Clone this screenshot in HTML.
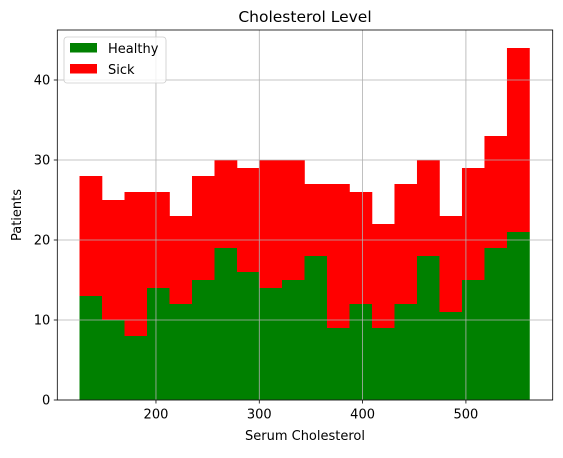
<!DOCTYPE html>
<html><head><meta charset="utf-8"><style>
body{margin:0;background:#fff;font-family:"Liberation Sans","DejaVu Sans",sans-serif;}
</style></head><body>
<svg id="chart" width="563" height="453" xmlns="http://www.w3.org/2000/svg" font-family="DejaVu Sans, Liberation Sans, sans-serif">
</svg>
<script>
const binStart = 126;
const binEnd = 561.5;
const healthy = [13,10,8,14,12,15,19,16,14,15,18,9,12,9,12,18,11,15,19,21];
const sick = [15,15,18,12,11,13,11,13,16,15,9,18,14,13,15,12,12,14,14,23];
const xTicks = [200,300,400,500];
const yTicks = [0,10,20,30,40];

const svg = document.getElementById('chart');
const NS = 'http://www.w3.org/2000/svg';
const L=57.3, R=552.7, T=30, B=400;
const xMin=104.5, xMax=584, yMax=46.25;
const X = v => L + (v - xMin) / (xMax - xMin) * (R - L);
const Y = v => B - v / yMax * (B - T);
function mk(tag, attrs){const e=document.createElementNS(NS,tag);for(const k in attrs)e.setAttribute(k,attrs[k]);svg.appendChild(e);return e;}

const n = healthy.length, w = (binEnd - binStart) / n;
for(let i=0;i<n;i++){
  const x0=X(binStart+i*w), x1=X(binStart+(i+1)*w);
  const g=mk('rect',{x:x0,y:Y(healthy[i]),width:x1-x0+0.3,height:Y(0)-Y(healthy[i]),fill:'#008000'});
  
  
  const top=healthy[i]+sick[i];
  const s=mk('rect',{x:x0,y:Y(top),width:x1-x0+0.3,height:Y(healthy[i])-Y(top),fill:'#ff0000'});
  
  
}
xTicks.forEach(t=>{
  const l=mk('line',{x1:X(t),x2:X(t),y1:T,y2:B,stroke:'#b0b0b0','stroke-width':0.8});
  
  
  mk('line',{x1:X(t),x2:X(t),y1:B,y2:B+3.5,stroke:'#000','stroke-width':0.8});
  const tx=mk('text',{x:X(t),y:B+18.5,'text-anchor':'middle','font-size':13,fill:'#000'});
  tx.textContent=t;
  
  
});
yTicks.forEach(t=>{
  const l=mk('line',{x1:L,x2:R,y1:Y(t),y2:Y(t),stroke:'#b0b0b0','stroke-width':0.8});
  
  
  mk('line',{x1:L-3.5,x2:L,y1:Y(t),y2:Y(t),stroke:'#000','stroke-width':0.8});
  const tx=mk('text',{x:L-7,y:Y(t)+4.5,'text-anchor':'end','font-size':13,fill:'#000'});
  tx.textContent=t;
  
  
});
const fr=mk('rect',{x:L,y:T,width:R-L,height:B-T,fill:'none',stroke:'#000','stroke-width':0.8});


const title=mk('text',{x:(L+R)/2,y:T-8,'text-anchor':'middle','font-size':15.5,fill:'#000'});
title.textContent='Cholesterol Level';


const xl=mk('text',{x:(L+R)/2,y:440,'text-anchor':'middle','font-size':13,fill:'#000'});
xl.textContent='Serum Cholesterol';


const yl=mk('text',{x:21,y:(T+B)/2,'text-anchor':'middle','font-size':13,fill:'#000',transform:'rotate(-90 21 '+((T+B)/2)+')'});
yl.textContent='Patients';


const lg=mk('rect',{x:64,y:37,width:102,height:46,rx:3,fill:'#fff','fill-opacity':0.8,stroke:'#cccccc','stroke-width':0.8});


[['Healthy','#008000'],['Sick','#ff0000']].forEach((d,i)=>{
  const r=mk('rect',{x:70,y:43+i*21,width:27,height:9.5,fill:d[1]});
  
  
  const t=mk('text',{x:108,y:53+i*21,'font-size':13,fill:'#000'});
  t.textContent=d[0];
  
  
});
</script>
</body></html>
